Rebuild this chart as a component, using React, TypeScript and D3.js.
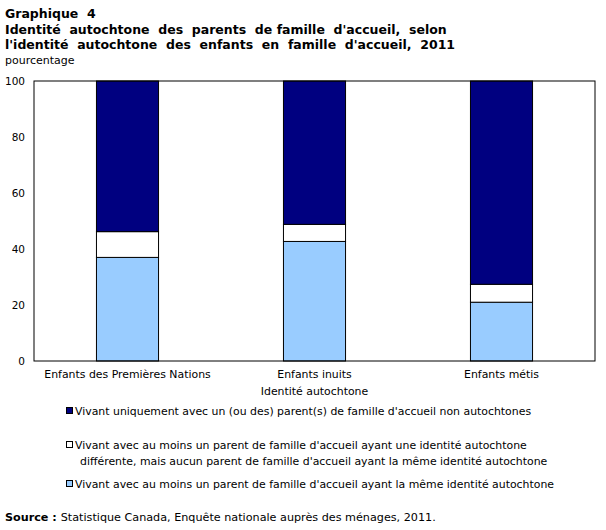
import { useRef, useEffect } from 'react';
import * as d3 from 'd3';

const categories = ['Enfants des Premières Nations', 'Enfants inuits', 'Enfants métis'];
const sameIdentity = [37.0, 42.7, 21.0];
const otherIdentity = [9.2, 6.1, 6.4];
const nonAboriginal = [53.8, 51.2, 72.6];
const yTicks = [0, 20, 40, 60, 80, 100];

const seriesKeys = ['same', 'other', 'non'];
const seriesColors = { same: '#99ccff', other: '#ffffff', non: '#000080' };
const legendItems = [
  { key: 'non', lines: ["Vivant uniquement avec un (ou des) parent(s) de famille d'accueil non autochtones"] },
  {
    key: 'other',
    lines: [
      "Vivant avec au moins un parent de famille d'accueil ayant une identité autochtone",
      "différente, mais aucun parent de famille d'accueil ayant la même identité autochtone",
    ],
  },
  { key: 'same', lines: ["Vivant avec au moins un parent de famille d'accueil ayant la même identité autochtone"] },
];

const width = 606;
const height = 530;
const margin = { top: 81, left: 34, right: 11, bottom: 169 };
const font = 'Verdana, "DejaVu Sans", sans-serif';

const Chart = () => {
  const ref = useRef<SVGSVGElement>(null);

  useEffect(() => {
    const svg = d3.select(ref.current);
    svg.selectAll('*').remove();

    const innerW = width - margin.left - margin.right;
    const innerH = height - margin.top - margin.bottom;

    const x = d3.scaleBand().domain(categories).range([0, innerW]).paddingInner(0.668).paddingOuter(0.334);
    const y = d3.scaleLinear().domain([0, 100]).range([innerH, 0]);

    const rows = categories.map((c, i) => ({
      category: c,
      same: sameIdentity[i],
      other: otherIdentity[i],
      non: nonAboriginal[i],
    }));
    const stacked = d3.stack<any>().keys(seriesKeys)(rows);

    // title
    const title = svg.append('g').attr('font-family', font).attr('fill', '#000');
    ['Graphique  4',
      "Identité  autochtone  des  parents  de famille  d'accueil,  selon",
      "l'identité  autochtone  des  enfants  en  famille  d'accueil,  2011"].forEach((t, i) => {
      title.append('text')
        .attr('x', 5)
        .attr('y', 18 + i * 15.5)
        .attr('font-size', 12.5)
        .attr('font-weight', 'bold')
        .attr('xml:space', 'preserve')
        .style('white-space', 'pre')
        .text(t);
    });
    title.append('text').attr('x', 5).attr('y', 64).attr('font-size', 11).text('pourcentage');

    const g = svg.append('g').attr('transform', `translate(${margin.left},${margin.top})`);

    // bars
    g.selectAll('g.layer')
      .data(stacked)
      .join('g')
      .attr('class', 'layer')
      .attr('fill', (d) => seriesColors[d.key])
      .selectAll('rect')
      .data((d) => d)
      .join('rect')
      .attr('x', (d) => x(d.data.category))
      .attr('y', (d) => y(d[1]))
      .attr('width', x.bandwidth())
      .attr('height', (d) => y(d[0]) - y(d[1]))
      .attr('stroke', '#000')
      .attr('stroke-width', 1);

    // frame
    g.append('rect')
      .attr('x', 0)
      .attr('y', 0)
      .attr('width', innerW)
      .attr('height', innerH)
      .attr('fill', 'none')
      .attr('stroke', '#000')
      .attr('stroke-width', 1);

    // y axis
    const yAxis = g.append('g')
      .call(d3.axisLeft(y).tickValues(yTicks).tickSize(0).tickPadding(9))
      .attr('font-family', font)
      .attr('font-size', 10.5);
    yAxis.select('.domain').remove();
    yAxis.selectAll('text').attr('fill', '#000');

    // x axis labels
    const xAxis = g.append('g')
      .attr('transform', `translate(0,${innerH})`)
      .call(d3.axisBottom(x).tickSize(0).tickPadding(9))
      .attr('font-family', font)
      .attr('font-size', 10.9);
    xAxis.select('.domain').remove();
    xAxis.selectAll('text').attr('fill', '#000');

    g.append('text')
      .attr('x', innerW / 2)
      .attr('y', innerH + 34)
      .attr('text-anchor', 'middle')
      .attr('font-family', font)
      .attr('font-size', 10.9)
      .text('Identité autochtone');

    // legend
    const legend = svg.append('g').attr('font-family', font).attr('font-size', 10.9);
    const legendY = [415, 449, 488];
    legendItems.forEach((item, i) => {
      legend.append('rect')
        .attr('x', 66.5)
        .attr('y', legendY[i] - 7.5)
        .attr('width', 6)
        .attr('height', 6)
        .attr('fill', seriesColors[item.key])
        .attr('stroke', '#000')
        .attr('stroke-width', 1);
      item.lines.forEach((line, j) => {
        legend.append('text')
          .attr('x', j === 0 ? 75 : 80)
          .attr('y', legendY[i] + j * 16)
          .text(line);
      });
    });

    // source
    const source = svg.append('text').attr('x', 5).attr('y', 521).attr('font-family', font).attr('font-size', 11.2);
    source.append('tspan').attr('font-weight', 'bold').text('Source : ');
    source.append('tspan').text('Statistique Canada, Enquête nationale auprès des ménages, 2011.');
  }, []);

  return <svg ref={ref} width={width} height={height} style={{ display: 'block' }} />;
};

export default function App() {
  return (
    <div style={{ position: 'absolute', left: 0, top: 0, background: '#fff' }}>
      <Chart />
    </div>
  );
}
